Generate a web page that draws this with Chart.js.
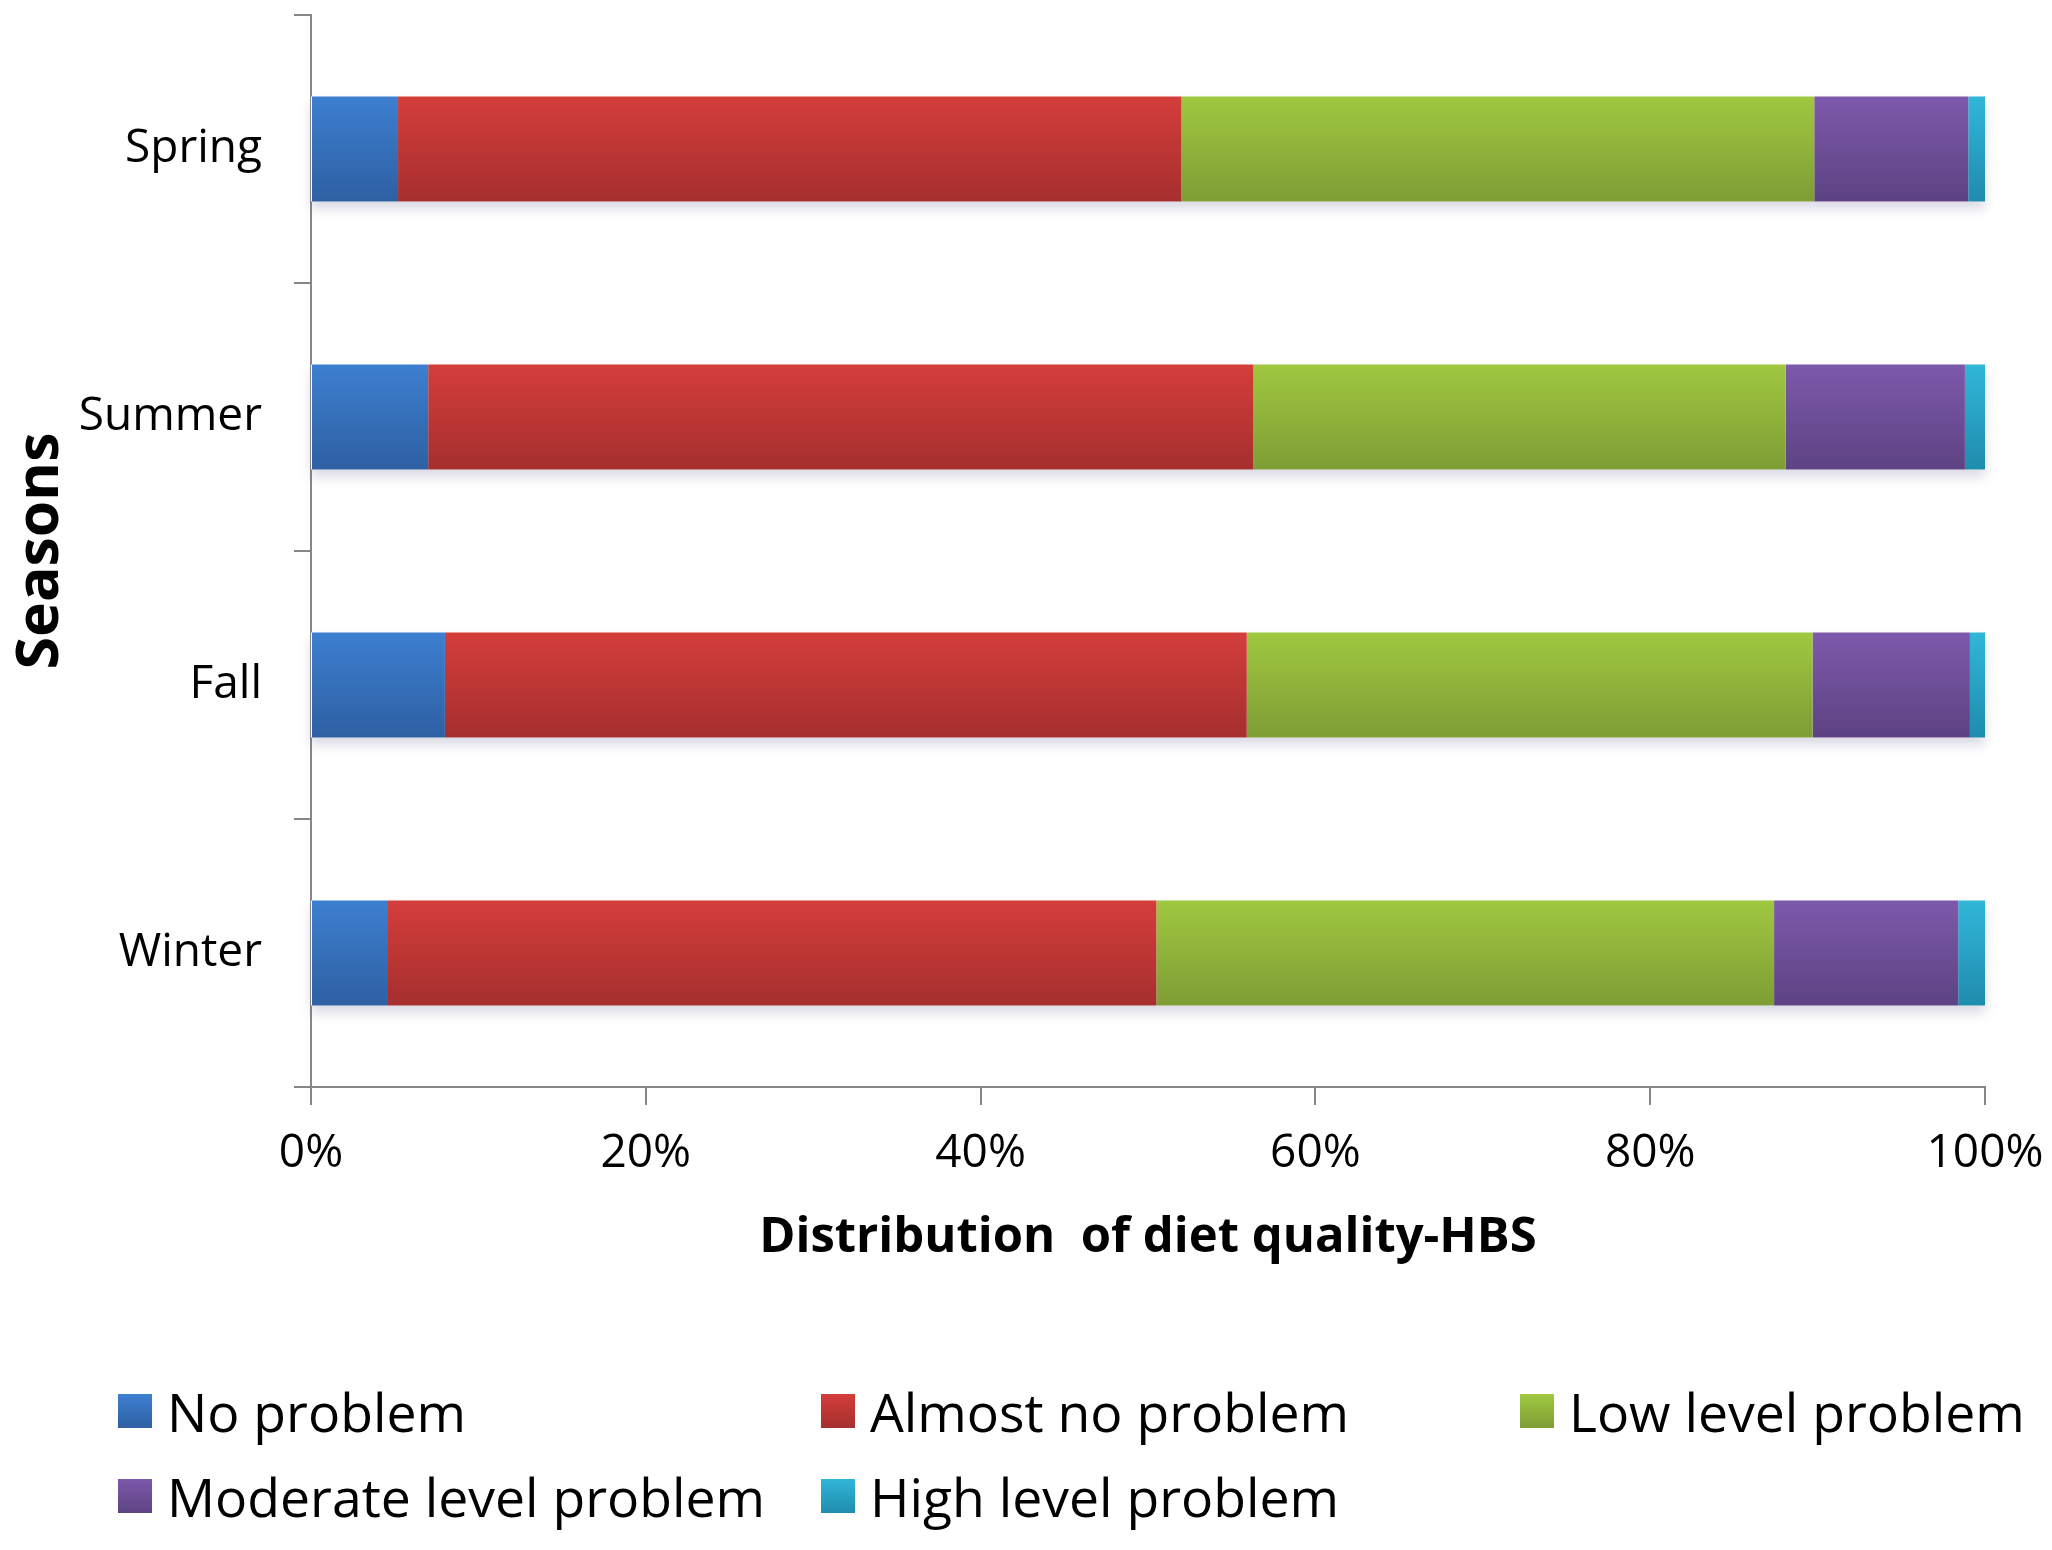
<!DOCTYPE html>
<html>
<head>
<meta charset="utf-8">
<script src="https://cdn.jsdelivr.net/npm/chart.js@4.4.1/dist/chart.umd.min.js"></script>
<style>
  html, body { margin: 0; padding: 0; background: #ffffff; }
  #wrap { position: relative; width: 2052px; height: 1550px; }
  #chart { position: absolute; left: 0; top: 0; }
  .lg { position: absolute; display: flex; align-items: center; height: 70px;
        font-family: "Open Sans", sans-serif; font-size: 53.5px; color: #000; white-space: nowrap; }
  .lg .sw { width: 34px; height: 34px; margin-right: 15px; flex: none; }
</style>
</head>
<body>
<div id="wrap">
  <canvas id="chart" width="2052" height="1550"></canvas>
</div>
<script>
// ---- data ----
const categories = ['Spring', 'Summer', 'Fall', 'Winter'];
const seriesNames = ['No problem', 'Almost no problem', 'Low level problem', 'Moderate level problem', 'High level problem'];
const noProblem       = [5.2, 7.0, 8.0, 4.6];
const almostNoProblem = [46.8, 49.3, 47.9, 45.9];
const lowLevel        = [37.8, 31.8, 33.8, 36.9];
const moderateLevel   = [9.2, 10.7, 9.4, 11.0];
const highLevel       = [1.0, 1.2, 0.9, 1.6];
const xTickLabels = ['0%', '20%', '40%', '60%', '80%', '100%'];
const xAxisTitle = 'Distribution  of diet quality-HBS';
const yAxisTitle = 'Seasons';

// ---- styling ----
const colorPairs = [
  ['#3d7fd0', '#2e60a3'],
  ['#d43e3b', '#a52f2e'],
  ['#a0c840', '#7e9d35'],
  ['#7d59ab', '#5d4383'],
  ['#31b6d8', '#1f8cad']
];
const BAR_PCT = 0.392;

function gradientFor(idx) {
  const [top, bottom] = colorPairs[idx];
  return (ctx) => {
    const chart = ctx.chart;
    const ys = chart.scales && chart.scales.y;
    if (!chart.chartArea || !ys || ctx.dataIndex === undefined) return top;
    const c = ys.getPixelForValue(ctx.dataIndex);
    const half = (ys.bottom - ys.top) / categories.length * BAR_PCT / 2;
    if (!isFinite(c)) return top;
    const g = chart.ctx.createLinearGradient(0, c - half, 0, c + half);
    g.addColorStop(0, top);
    g.addColorStop(1, bottom);
    return g;
  };
}

const seriesValues = [noProblem, almostNoProblem, lowLevel, moderateLevel, highLevel];
const datasets = seriesValues.map((vals, i) => ({
  label: seriesNames[i],
  data: vals,
  backgroundColor: gradientFor(i),
  borderWidth: 0,
  categoryPercentage: 1.0,
  barPercentage: BAR_PCT
}));

const shadowPlugin = {
  id: 'barShadow',
  beforeDatasetsDraw(chart) {
    const ctx = chart.ctx;
    const xs = chart.scales.x, ys = chart.scales.y;
    const half = (ys.bottom - ys.top) / categories.length * BAR_PCT / 2;
    ctx.save();
    ctx.shadowColor = 'rgba(90, 90, 140, 0.22)';
    ctx.shadowBlur = 10;
    ctx.shadowOffsetY = 7;
    ctx.fillStyle = '#ffffff';
    categories.forEach((c, i) => {
      const yc = ys.getPixelForValue(i);
      const x0 = xs.getPixelForValue(0), x1 = xs.getPixelForValue(100);
      ctx.fillRect(x0, yc - half, x1 - x0, half * 2);
    });
    ctx.restore();
  }
};

function noPad(scale) {
  scale.paddingTop = 0; scale.paddingBottom = 0;
  scale.paddingLeft = 0; scale.paddingRight = 0;
}

const axisGrey = '#878787';

new Chart(document.getElementById('chart'), {
  type: 'bar',
  data: { labels: categories, datasets },
  plugins: [shadowPlugin],
  options: {
    indexAxis: 'y',
    responsive: false,
    animation: false,
    devicePixelRatio: 1,
    layout: { padding: { top: 15, right: 67, bottom: 0, left: 0 } },
    plugins: { legend: { display: false }, tooltip: { enabled: false } },
    scales: {
      x: {
        stacked: true,
        min: 0, max: 100,
        ticks: {
          stepSize: 20,
          padding: 21,
          color: '#000',
          font: { family: 'Open Sans', size: 46 },
          callback: (v) => xTickLabels[Math.round(v / 20)]
        },
        grid: { drawOnChartArea: false, drawTicks: true, tickLength: 18, color: axisGrey, lineWidth: 2 },
        border: { display: true, color: axisGrey, width: 2 },
        title: {
          display: true, text: xAxisTitle, color: '#000',
          font: { family: 'Open Sans', size: 49, weight: 'bold' },
          padding: { top: 0, bottom: 283 }
        },
        afterFit(scale) { scale.height = 463; noPad(scale); }
      },
      y: {
        stacked: true,
        ticks: {
          padding: 32,
          color: '#000',
          font: { family: 'Open Sans', size: 46 }
        },
        grid: { offset: true, drawOnChartArea: false, drawTicks: true, tickLength: 17, color: axisGrey, lineWidth: 2 },
        border: { display: true, color: axisGrey, width: 2 },
        title: {
          display: true, text: yAxisTitle, color: '#000',
          font: { family: 'Open Sans', size: 59, weight: 'bold' },
          padding: { top: 6, bottom: 0 }
        },
        afterFit(scale) { scale.width = 311; noPad(scale); }
      }
    }
  }
});

// ---- HTML legend (grid layout as in the reference) ----
const legendSlots = [
  { left: 118, top: 1376 }, { left: 821, top: 1376 }, { left: 1520, top: 1376 },
  { left: 118, top: 1461 }, { left: 821, top: 1461 }
];
const wrap = document.getElementById('wrap');
seriesNames.forEach((name, i) => {
  const d = document.createElement('div');
  d.className = 'lg';
  d.style.left = legendSlots[i].left + 'px';
  d.style.top = legendSlots[i].top + 'px';
  const sw = document.createElement('span');
  sw.className = 'sw';
  sw.style.background = 'linear-gradient(' + colorPairs[i][0] + ',' + colorPairs[i][1] + ')';
  const t = document.createElement('span');
  t.textContent = name;
  d.appendChild(sw);
  d.appendChild(t);
  wrap.appendChild(d);
});
</script>
</body>
</html>
